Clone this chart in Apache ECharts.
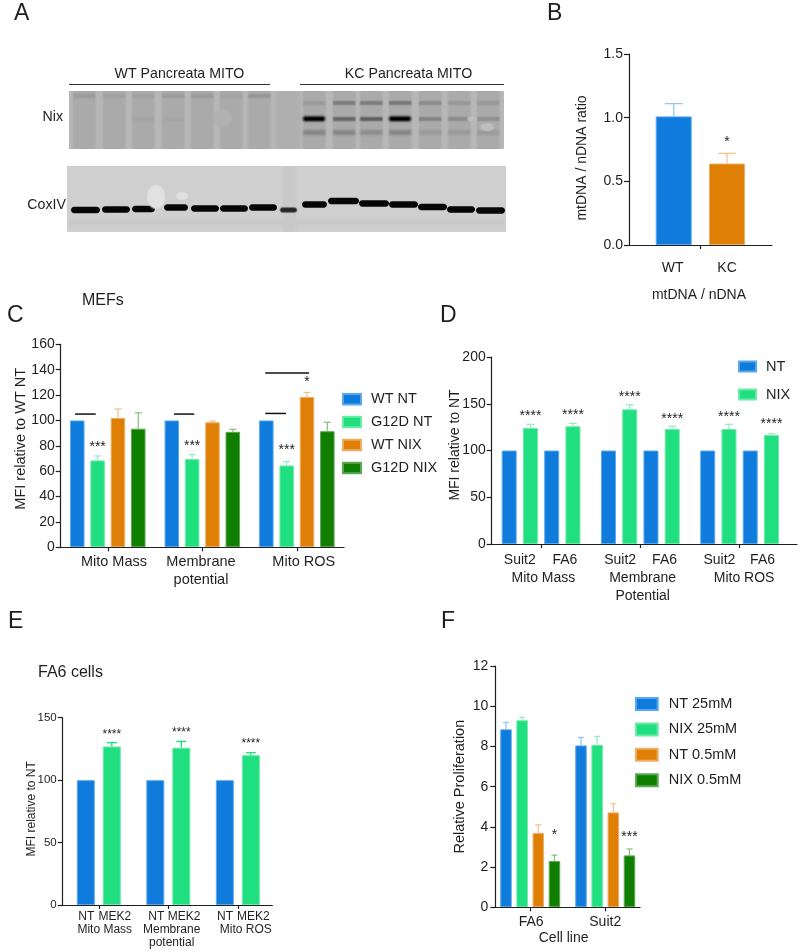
<!DOCTYPE html>
<html>
<head>
<meta charset="utf-8">
<style>html,body{margin:0;padding:0;background:#fff}#c{width:800px;height:952px}</style>
<script src="https://cdn.jsdelivr.net/npm/echarts@6/dist/echarts.min.js"></script>
</head>
<body>
<div id="c"></div>
<script>
// ---------- data ----------
const bNames = ['WT', 'KC'];
const bValues = [1.01, 0.64];
const bErrors = [1.11, 0.72];

const cSeries = ['WT NT', 'G12D NT', 'WT NIX', 'G12D NIX'];
const cCategories = ['Mito Mass', 'Membrane\npotential', 'Mito ROS'];
const cWtNt = [100, 100, 100];
const cG12dNt = [68.5, 69.5, 64.5];
const cWtNix = [102, 98.5, 118.5];
const cG12dNix = [93.5, 91, 91.5];
const cG12dNtErr = [72, 73, 67.5];
const cWtNixErr = [109, 99.5, 122];
const cG12dNixErr = [106, 93, 98.5];

const dSeries = ['NT', 'NIX'];
const dBarLabels = ['Suit2', 'FA6', 'Suit2', 'FA6', 'Suit2', 'FA6'];
const dCategories = ['Mito Mass', 'Membrane\nPotential', 'Mito ROS'];
const dNt = [100, 100, 100, 100, 100, 100];
const dNix = [124, 126, 144, 123, 123, 116.5];
const dNixErr = [128, 129, 149, 126, 128, 118];

const eSeries = ['NT', 'MEK2'];
const eCategories = ['Mito Mass', 'Membrane\npotential', 'Mito ROS'];
const eNt = [100, 100, 100];
const eMek2 = [127, 126, 120];
const eMek2Err = [130, 131, 122];

const fSeries = ['NT 25mM', 'NIX 25mM', 'NT 0.5mM', 'NIX 0.5mM'];
const fCategories = ['FA6', 'Suit2'];
const fNt25 = [8.85, 8.05];
const fNix25 = [9.3, 8.08];
const fNt05 = [3.7, 4.72];
const fNix05 = [2.3, 2.58];
const fNt25Err = [9.2, 8.45];
const fNix25Err = [9.45, 8.5];
const fNt05Err = [4.1, 5.15];
const fNix05Err = [2.6, 2.9];

// ---------- styles ----------
const FONT = '"Liberation Sans", Arial, sans-serif';
const INK = '#1f1f1f';
const BLUE = '#0f7cdd', MINT = '#20df80', ORANGE = '#df7f05', DARK = '#107f00';
const tint = { [BLUE]: '#8fc4f2', [MINT]: '#8feebf', [ORANGE]: '#f2c088', [DARK]: '#86be7e' };
const edge = { [BLUE]: '#5aa8ec', [MINT]: '#6ceaa8', [ORANGE]: '#eeae66', [DARK]: '#5ca854' };

const grids = [], xAxes = [], yAxes = [], series = [], legends = [];

// A panel: one x unit is one bar pitch; bars are placed group by group
function panel(p) {
  const idx = grids.length;
  grids.push({ left: p.left, top: p.top, width: p.width, height: p.height, containLabel: false });
  const xAt = (g, i) => g * p.groupPitch + i;
  const ticks = p.tickGroups.map((g) => xAt(g, (p.perGroup - 1) / 2));
  // empty end anchors keep the axis from dropping labels that sit next to the first or last one
  const sorted = [{ x: p.xMin, text: '' }].concat(p.labels.slice().sort((a, b) => a.x - b.x), [{ x: p.xMax, text: '' }]);
  const labelMap = new Map(sorted.map((l) => [l.x, l.text]));
  xAxes.push({
    gridIndex: idx, type: 'value', min: p.xMin, max: p.xMax, z: 5,
    splitLine: { show: false }, splitArea: { show: false },
    axisLine: { onZero: false, lineStyle: { color: INK, width: 1.2 } },
    axisTick: { length: 4, customValues: ticks, lineStyle: { color: INK, width: 1.2 } },
    axisLabel: {
      customValues: sorted.map((l) => l.x),
      formatter: (v) => labelMap.get(v) || '',
      color: INK, fontFamily: FONT, fontSize: p.labelSize, lineHeight: p.labelLine,
      margin: p.labelMargin, hideOverlap: false
    },
    name: p.xName || '', nameLocation: 'middle', nameGap: p.xNameGap || 0, nameMoveOverlap: false,
    nameTextStyle: { color: INK, fontFamily: FONT, fontSize: p.xNameSize || 14, padding: p.xNamePad || 0 }
  });
  yAxes.push({
    gridIndex: idx, type: 'value', min: 0, max: p.yMax, interval: p.yStep, z: 5,
    splitLine: { show: false },
    axisLine: { show: true, onZero: false, lineStyle: { color: INK, width: 1.2 } },
    axisTick: { show: true, length: 5, lineStyle: { color: INK, width: 1.2 } },
    axisLabel: { color: INK, fontFamily: FONT, fontSize: p.tickSize, margin: p.tickMargin || 6, formatter: p.yFormat },
    name: p.yName, nameLocation: 'middle', nameGap: p.yNameGap, nameRotate: 90, nameMoveOverlap: false,
    nameTextStyle: { color: INK, fontFamily: FONT, fontSize: p.yNameSize, padding: p.yNamePad || 0, verticalAlign: 'bottom' }
  });
  // bars
  p.series.forEach((s) => {
    series.push({
      type: 'bar', name: s.name, xAxisIndex: idx, yAxisIndex: idx,
      barWidth: p.barWidth, barGap: '-100%', animation: false,
      itemStyle: { color: s.color, borderColor: edge[s.color], borderWidth: 1 },
      data: s.values.map((v, k) => [s.at(k), v])
    });
    if (s.errors) {
      series.push({
        type: 'custom', xAxisIndex: idx, yAxisIndex: idx, animation: false, silent: true, z: 1,
        name: s.name + ' error',
        data: s.errors.map((e, k) => [s.at(k), s.values[k], e]),
        encode: { x: 0, y: [1, 2] },
        renderItem: (params, api) => {
          const a = api.coord([api.value(0), api.value(1)]);
          const b = api.coord([api.value(0), api.value(2)]);
          const cw = p.capWidth / 2;
          const st = { stroke: p.errColor || tint[s.color], lineWidth: p.errWidth || 1.2, fill: null };
          return { type: 'group', children: [
            { type: 'line', shape: { x1: a[0], y1: a[1], x2: b[0], y2: b[1] }, style: st },
            { type: 'line', shape: { x1: b[0] - cw, y1: b[1], x2: b[0] + cw, y2: b[1] }, style: st }
          ] };
        }
      });
    }
  });
  // significance marks: position is the height of the asterisks in axis units
  if (p.stars) {
    series.push({
      type: 'custom', xAxisIndex: idx, yAxisIndex: idx, animation: false, silent: true, z: 4,
      name: 'significance',
      data: p.stars.map((s) => [s.x, s.y]),
      encode: { x: 0, y: 1 },
      renderItem: (params, api) => {
        const c = api.coord([api.value(0), api.value(1)]);
        return { type: 'text', style: {
          x: c[0], y: c[1] + p.starSize * 0.15, text: p.stars[params.dataIndex].t,
          fill: INK, font: p.starSize + 'px ' + FONT, textAlign: 'center', textVerticalAlign: 'middle'
        } };
      }
    });
  }
  if (p.sigLines) {
    series.push({
      type: 'custom', xAxisIndex: idx, yAxisIndex: idx, animation: false, silent: true, z: 4,
      name: 'comparison',
      data: p.sigLines,
      encode: { x: [0, 1], y: 2 },
      renderItem: (params, api) => {
        const a = api.coord([api.value(0), api.value(2)]);
        const b = api.coord([api.value(1), api.value(2)]);
        return { type: 'line', shape: { x1: a[0], y1: a[1], x2: b[0], y2: b[1] },
          style: { stroke: '#111', lineWidth: 1.5 } };
      }
    });
  }
  if (p.legend) legends.push(Object.assign({
    orient: 'vertical', icon: 'rect', selectedMode: false, padding: 0,
    textStyle: { color: INK, fontFamily: FONT, fontSize: 14.5, padding: [0, 0, 0, 5] }
  }, p.legend));
}

// ---------- panel B ----------
panel({
  left: 629, top: 54, width: 143, height: 191,
  xMin: -0.839, xMax: 1.844, groupPitch: 1, perGroup: 2, tickGroups: [0],
  barWidth: 36, capWidth: 18,
  labels: [{ x: -0.02, text: bNames[0] }, { x: 1.0, text: bNames[1] }],
  labelSize: 14, labelLine: 16, labelMargin: 15,
  xName: 'mtDNA / nDNA', xNameGap: 43, xNameSize: 14, xNamePad: [0, 3, 0, 0],
  yMax: 1.5, yStep: 0.5, tickSize: 14, yFormat: (v) => v.toFixed(1),
  yName: 'mtDNA / nDNA ratio', yNameGap: 40, yNameSize: 14, yNamePad: [0, 17, 0, 0],
  series: [
    { name: bNames[0], color: BLUE, values: [bValues[0]], errors: [bErrors[0]], at: () => 0 },
    { name: bNames[1], color: ORANGE, values: [bValues[1]], errors: [bErrors[1]], at: () => 1 }
  ],
  stars: [{ x: 1, y: 0.825, t: '*' }], starSize: 14
});

// ---------- panel C ----------
const cGroup = 4.65;
panel({
  left: 60.7, top: 344.3, width: 283.3, height: 203,
  xMin: -0.816, xMax: 13.12, groupPitch: cGroup, perGroup: 4, tickGroups: [0, 1, 2],
  barWidth: 14.5, capWidth: 7,
  labels: [
    { x: 1.805, text: cCategories[0] }, { x: 6.085, text: cCategories[1] }, { x: 11.14, text: cCategories[2] }
  ],
  labelSize: 14.5, labelLine: 17.6, labelMargin: 6,
  yMax: 160, yStep: 20, tickSize: 14,
  yName: 'MFI relative to WT NT', yNameGap: 32, yNameSize: 14.5, yNamePad: [0, 0, 0, 14],
  series: [
    { name: cSeries[0], color: BLUE, values: cWtNt, at: (k) => k * cGroup },
    { name: cSeries[1], color: MINT, values: cG12dNt, errors: cG12dNtErr, at: (k) => k * cGroup + 1 },
    { name: cSeries[2], color: ORANGE, values: cWtNix, errors: cWtNixErr, at: (k) => k * cGroup + 2 },
    { name: cSeries[3], color: DARK, values: cG12dNix, errors: cG12dNixErr, at: (k) => k * cGroup + 3 }
  ],
  stars: [
    { x: 1, y: 80.6, t: '***' }, { x: cGroup + 1, y: 81.1, t: '***' }, { x: 2 * cGroup + 1, y: 78, t: '***' },
    { x: 2 * cGroup + 2, y: 131.9, t: '*' }
  ], starSize: 14,
  sigLines: [[-0.11, 0.905, 105], [4.756, 5.755, 105], [9.247, 10.27, 105.5], [9.247, 11.4, 137.4]],
  legend: { data: cSeries, left: 342, top: 391.7, itemWidth: 18, itemHeight: 10.5, itemGap: 7.9 }
});

// ---------- panel D ----------
const dGroup = 4.67;
const dAt = (k) => Math.floor(k / 2) * dGroup + (k % 2) * 2;
panel({
  left: 491.7, top: 357, width: 307.3, height: 187,
  xMin: -0.822, xMax: 13.54, groupPitch: dGroup, perGroup: 4, tickGroups: [0, 1, 2],
  barWidth: 15, capWidth: 8,
  labels: [
    { x: 0.5, text: dBarLabels[0] }, { x: 2.62, text: dBarLabels[1] },
    { x: 1.61, text: '\n' + dCategories[0] },
    { x: 5.22, text: dBarLabels[2] }, { x: 7.31, text: dBarLabels[3] },
    { x: 6.28, text: '\n' + dCategories[1] },
    { x: 9.89, text: dBarLabels[4] }, { x: 11.92, text: dBarLabels[5] },
    { x: 11.05, text: '\n' + dCategories[2] }
  ],
  labelSize: 14, labelLine: 18, labelMargin: 7,
  yMax: 200, yStep: 50, tickSize: 14,
  yName: 'MFI relative to NT', yNameGap: 29.7, yNameSize: 14, yNamePad: [0, 0, 0, 11],
  series: [
    { name: dSeries[0], color: BLUE, values: dNt, at: dAt },
    { name: dSeries[1], color: MINT, values: dNix, errors: dNixErr, at: (k) => dAt(k) + 1 }
  ],
  stars: [139, 140.5, 159.4, 135.8, 138.3, 130.8].map((y, k) => ({ x: dAt(k) + 1, y, t: '****' })),
  starSize: 14,
  legend: { data: dSeries, left: 738, top: 359, itemWidth: 17, itemHeight: 10, itemGap: 13 }
});

// ---------- panel E ----------
const eGroup = 2.673;
const eAt = (k) => k * eGroup;
panel({
  left: 62.7, top: 717.7, width: 209.6, height: 187.3,
  xMin: -0.888, xMax: 7.17, groupPitch: eGroup, perGroup: 2, tickGroups: [0, 1, 2],
  barWidth: 18, capWidth: 10, errColor: MINT, errWidth: 1.4,
  labels: [
    { x: 0.02, text: 'NT' }, { x: 1.12, text: 'MEK2' }, { x: 0.73, text: '\n' + eCategories[0] },
    { x: 2.71, text: 'NT' }, { x: 3.78, text: 'MEK2' }, { x: 3.3, text: '\n' + eCategories[1] },
    { x: 5.35, text: 'NT' }, { x: 6.44, text: 'MEK2' }, { x: 6.15, text: '\n' + eCategories[2] }
  ],
  labelSize: 12, labelLine: 13.2, labelMargin: 5,
  yMax: 150, yStep: 50, tickSize: 11.5,
  yName: 'MFI relative to NT', yNameGap: 25, yNameSize: 12, yNamePad: [0, 0, 0, 5],
  series: [
    { name: eSeries[0], color: BLUE, values: eNt, at: eAt },
    { name: eSeries[1], color: MINT, values: eMek2, errors: eMek2Err, at: (k) => eAt(k) + 1 }
  ],
  stars: [138.2, 139.3, 130.5].map((y, k) => ({ x: eAt(k) + 1, y, t: '****' })),
  starSize: 12
});

// ---------- panel F ----------
const fGroup = 4.64;
const fAt = (k) => k * fGroup;
panel({
  left: 495.3, top: 666, width: 144.7, height: 241.3,
  xMin: -0.66, xMax: 8.29, groupPitch: fGroup, perGroup: 4, tickGroups: [0, 1],
  barWidth: 11.5, capWidth: 6,
  labels: [{ x: 1.56, text: fCategories[0] }, { x: 6.14, text: fCategories[1] }],
  labelSize: 14, labelLine: 16, labelMargin: 7,
  xName: 'Cell line', xNameGap: 24, xNameSize: 14, xNamePad: [0, 8, 0, 0],
  yMax: 12, yStep: 2, tickSize: 14, tickMargin: 7,
  yName: 'Relative Proliferation', yNameGap: 28, yNameSize: 14.5,
  series: [
    { name: fSeries[0], color: BLUE, values: fNt25, errors: fNt25Err, at: (k) => fAt(k) },
    { name: fSeries[1], color: MINT, values: fNix25, errors: fNix25Err, at: (k) => fAt(k) + 1 },
    { name: fSeries[2], color: ORANGE, values: fNt05, errors: fNt05Err, at: (k) => fAt(k) + 2 },
    { name: fSeries[3], color: DARK, values: fNix05, errors: fNix05Err, at: (k) => fAt(k) + 3 }
  ],
  stars: [{ x: 3, y: 3.71, t: '*' }, { x: fGroup + 3, y: 3.61, t: '***' }], starSize: 14,
  legend: { data: fSeries, left: 635, top: 696.5, itemWidth: 21.7, itemHeight: 12, itemGap: 10.4,
    textStyle: { color: INK, fontFamily: FONT, fontSize: 14.5, padding: [0, 0, 0, 6] } }
});

// ---------- panel A: the blot photograph, painted with soft edges ----------
const nixLaneStarts = [73, 103, 132, 162, 191, 220, 248, 303, 333, 360, 389, 419, 448, 477];
const nixMain = [0, 0, .03, .02, 0, 0, 0, 1, .36, .4, 1, .2, .16, .14];
const nixUpper = [.07, .05, .05, .07, .08, .03, .1, .08, .24, .24, .26, .16, .1, .1];
const nixLower = [0, 0, 0, 0, 0, 0, 0, .22, .22, .18, .22, .1, .1, .1];
const coxBands = [
  [71, 100, 210], [102, 130, 209.5], [132, 155, 209], [164, 188, 207.5], [191, 219, 208.5],
  [220, 248, 208.5], [249, 277, 207.5], [280, 297, 210], [302, 327, 204.5], [328, 359, 201],
  [359, 389, 203.5], [389, 418, 204.5], [418, 447, 207], [447, 475, 209.5], [476, 505, 210.5]
];

function paintBlot() {
  const x0 = 60, y0 = 88, W = 452, H = 150;
  const cv = document.createElement('canvas');
  cv.width = W * 2; cv.height = H * 2;
  const g = cv.getContext('2d');
  g.scale(2, 2);
  g.translate(-x0, -y0);
  const box = (x, y, w, h, c, blur) => {
    g.filter = blur ? 'blur(' + blur + 'px)' : 'none';
    g.fillStyle = c;
    g.fillRect(x, y, w, h);
  };
  const pill = (x, y, w, h, c, blur) => {
    g.filter = blur ? 'blur(' + blur + 'px)' : 'none';
    g.fillStyle = c;
    g.beginPath(); g.roundRect(x, y, w, h, h / 2); g.fill();
  };
  const oval = (cx, cy, rx, ry, c, blur) => {
    g.filter = blur ? 'blur(' + blur + 'px)' : 'none';
    g.fillStyle = c;
    g.beginPath(); g.ellipse(cx, cy, rx, ry, 0, 0, Math.PI * 2); g.fill();
  };
  // Nix membrane
  g.save();
  g.beginPath(); g.rect(69, 91, 435, 58); g.clip();
  box(60, 85, 452, 70, '#b7b7b7');
  box(276, 85, 24, 70, '#afafaf', 2);
  nixLaneStarts.forEach((x, i) => {
    box(x, 88, 22.5, 64, '#aaaaaa', 1.8);
    const dark = (a) => 'rgba(25,25,25,' + a + ')';
    if (nixUpper[i]) box(x, i > 6 ? 101 : 94, 22.5, 4, dark(nixUpper[i] * 1.3), 1.6);
    if (nixMain[i]) {
      const strong = nixMain[i] > .9;
      if (strong) {
        pill(x - 1, 115.5, 24, 6.5, 'rgba(25,25,25,.55)', 1.6);
        pill(x + 1, 117, 20, 3.6, '#000', 1);
      } else {
        box(x, 117, 22.5, 4, dark(nixMain[i] * 1.3), 1.5);
      }
    }
    if (nixLower[i]) box(x, 130, 22.5, 5, dark(nixLower[i] * 1.1), 2);
  });
  oval(223, 118, 9, 9, '#b1b1b1', 2);
  oval(487, 127, 7, 4, '#bfbfbf', 1.4);
  oval(472, 119, 5, 3, '#bdbdbd', 1.4);
  g.restore();
  // CoxIV membrane
  g.save();
  g.beginPath(); g.rect(67, 166, 439, 66); g.clip();
  box(60, 160, 452, 80, '#cfcfcf');
  box(283, 160, 13, 80, '#c9c9c9', 2);
  box(70, 220, 434, 5, '#c8c8c8', 2.5);
  coxBands.forEach((b, i) => {
    const ladder = i === 7;
    pill(b[0], b[2] - (ladder ? 2.5 : 3.2), b[1] - b[0], ladder ? 5 : 6.4, ladder ? '#262626' : '#060606', ladder ? 1.2 : 0.7);
  });
  oval(156, 197, 9, 12, '#e2e2e2', 1.6);
  oval(182, 196, 6, 4, '#e0e0e0', 1.2);
  g.restore();
  return { image: cv, x: x0, y: y0, width: W, height: H };
}
const blotImage = paintBlot();

// ---------- free text ----------
const txt = (text, x, y, size, align) => ({
  type: 'text', silent: true, x, y,
  style: { text, fill: INK, font: size + 'px ' + FONT, textAlign: align || 'left', textVerticalAlign: 'middle' }
});
const blotLine = (x1, x2, y) => ({ type: 'line', silent: true, shape: { x1, y1: y, x2, y2: y }, style: { stroke: '#333', lineWidth: 1 } });

const texts = [
  txt('A', 14, 13.5, 23), txt('B', 547, 14, 23), txt('C', 7, 315.5, 23), txt('D', 440, 315.5, 23),
  txt('E', 8, 622, 23), txt('F', 441, 622, 23),
  txt('MEFs', 82, 301, 16), txt('FA6 cells', 38, 673, 16),
  txt('WT Pancreata MITO', 179.5, 74.5, 14.2, 'center'), txt('KC Pancreata MITO', 408.5, 74.5, 14.2, 'center'),
  txt('Nix', 63, 117, 14.2, 'right'), txt('CoxIV', 66, 205.5, 14.2, 'right'),
  blotLine(69, 270, 84.5), blotLine(300, 504, 84.5)
];

const chart = echarts.init(document.getElementById('c'), null, { renderer: 'canvas' });
chart.setOption({
  backgroundColor: '#fff',
  animation: false,
  textStyle: { fontFamily: FONT },
  grid: grids, xAxis: xAxes, yAxis: yAxes, series, legend: legends,
  graphic: { elements: [{ type: 'image', silent: true, x: blotImage.x, y: blotImage.y,
    style: { image: blotImage.image, x: 0, y: 0, width: blotImage.width, height: blotImage.height } }].concat(texts) }
});
</script>
</body>
</html>
